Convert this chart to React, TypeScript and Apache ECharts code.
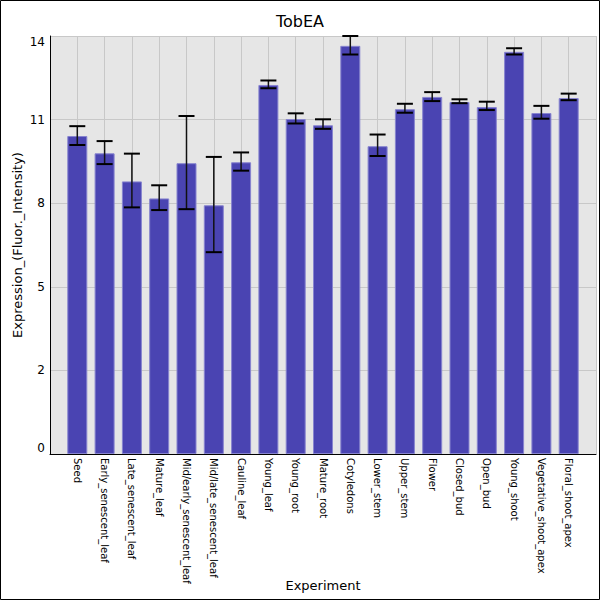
import React, { useEffect, useRef } from "react";
import * as echarts from "echarts";

const categories = [
  "Seed", "Early_senescent_leaf", "Late_senescent_leaf", "Mature_leaf",
  "Mid/early_senescent_leaf", "Mid/late_senescent_leaf", "Cauline_leaf",
  "Young_leaf", "Young_root", "Mature_root", "Cotyledons", "Lower_stem",
  "Upper_stem", "Flower", "Closed_bud", "Open_bud", "Young_shoot",
  "Vegetative_shoot_apex", "Floral_shoot_apex",
];
const values = [
  10.65, 10.07, 9.13, 8.56, 9.74, 8.33, 9.77, 12.36, 11.22, 11.01,
  13.67, 10.31, 11.55, 11.96, 11.79, 11.62, 13.47, 11.42, 11.92,
];
const errLow = [
  10.35, 9.71, 8.26, 8.17, 8.2, 6.76, 9.49, 12.25, 11.07, 10.89,
  13.38, 9.98, 11.43, 11.82, 11.75, 11.52, 13.38, 11.23, 11.85,
];
const errHigh = [
  10.98, 10.48, 10.06, 9.0, 11.32, 9.95, 10.1, 12.51, 11.41, 11.21,
  14.0, 10.7, 11.73, 12.12, 11.88, 11.8, 13.59, 11.66, 12.07,
];
const yTickInterval = 2.8;

export default function App() {
  const ref = useRef<HTMLDivElement>(null);
  useEffect(() => {
    document.body.style.margin = "0";
    const chart = echarts.init(ref.current!, null, { renderer: "svg" });
    const font = "DejaVu Sans";
    chart.setOption({
      animation: false,
      backgroundColor: "#ffffff",
      textStyle: { fontFamily: font },
      title: {
        text: "TobEA",
        left: "center",
        top: 8,
        textStyle: { fontSize: 16, fontWeight: "normal", color: "#000", fontFamily: font },
      },
      graphic: [
        {
          type: "rect",
          shape: { x: 0.5, y: 0.5, width: 599, height: 599 },
          style: { fill: "none", stroke: "#000", lineWidth: 1 },
          silent: true,
        },
      ],
      grid: {
        left: 50,
        right: 4,
        top: 36,
        bottom: 146,
        show: true,
        backgroundColor: "#e6e6e6",
        borderWidth: 0,
        containLabel: false,
        outerBoundsMode: "none",
      },
      xAxis: {
        type: "value",
        min: 0,
        max: categories.length + 1,
        interval: 1,
        name: "Experiment",
        nameLocation: "middle",
        nameGap: 125,
        nameMoveOverlap: false,
        nameTextStyle: { fontSize: 13, color: "#000", fontFamily: font },
        axisLine: { show: true, lineStyle: { color: "#000", width: 1 } },
        axisTick: { show: false },
        splitLine: { show: true, lineStyle: { color: "#c8c8c8", width: 1 } },
        axisLabel: {
          rotate: -90,
          fontSize: 10,
          color: "#000",
          margin: 4,
          fontFamily: font,
          showMinLabel: false,
          showMaxLabel: false,
          formatter: (v: number) => categories[Math.round(v) - 1] ?? "",
        },
      },
      yAxis: {
        type: "value",
        min: 0,
        max: 14,
        interval: yTickInterval,
        name: "Expression_(Fluor._Intensity)",
        nameLocation: "middle",
        nameGap: 26,
        nameMoveOverlap: false,
        nameTextStyle: { fontSize: 13, color: "#000", fontFamily: font },
        axisLine: { show: true, lineStyle: { color: "#000", width: 1 } },
        axisTick: { show: false },
        splitLine: { show: true, lineStyle: { color: "#c8c8c8", width: 1 } },
        axisLabel: {
          fontSize: 12,
          color: "#000",
          margin: 5,
          fontFamily: font,
          verticalAlignMinLabel: "bottom",
          verticalAlignMaxLabel: "top",
          formatter: (v: number) => String(Math.floor(v + 1e-9)),
        },
      },
      series: [
        {
          type: "bar",
          barWidth: 20,
          data: values.map((v, i) => [i + 1, v]),
          itemStyle: { color: "#4a44b2", borderColor: "#8784cf", borderWidth: 1 },
        },
        {
          type: "custom",
          data: values.map((_, i) => [i + 1, errLow[i], errHigh[i]]),
          encode: { x: 0, y: [1, 2] },
          z: 5,
          renderItem: (params: any, api: any) => {
            const x = api.value(0);
            const lo = api.coord([x, api.value(1)]);
            const hi = api.coord([x, api.value(2)]);
            const hw = 8;
            const stroke = { stroke: "#111", lineWidth: 1.5 };
            const cap = { stroke: "#000", lineWidth: 2 };
            return {
              type: "group",
              children: [
                { type: "line", shape: { x1: lo[0], y1: lo[1], x2: hi[0], y2: hi[1] }, style: stroke },
                { type: "line", shape: { x1: lo[0] - hw, y1: lo[1], x2: lo[0] + hw, y2: lo[1] }, style: cap },
                { type: "line", shape: { x1: hi[0] - hw, y1: hi[1], x2: hi[0] + hw, y2: hi[1] }, style: cap },
              ],
            };
          },
        },
      ],
    });
    return () => chart.dispose();
  }, []);
  return <div ref={ref} style={{ width: 600, height: 600 }} />;
}
